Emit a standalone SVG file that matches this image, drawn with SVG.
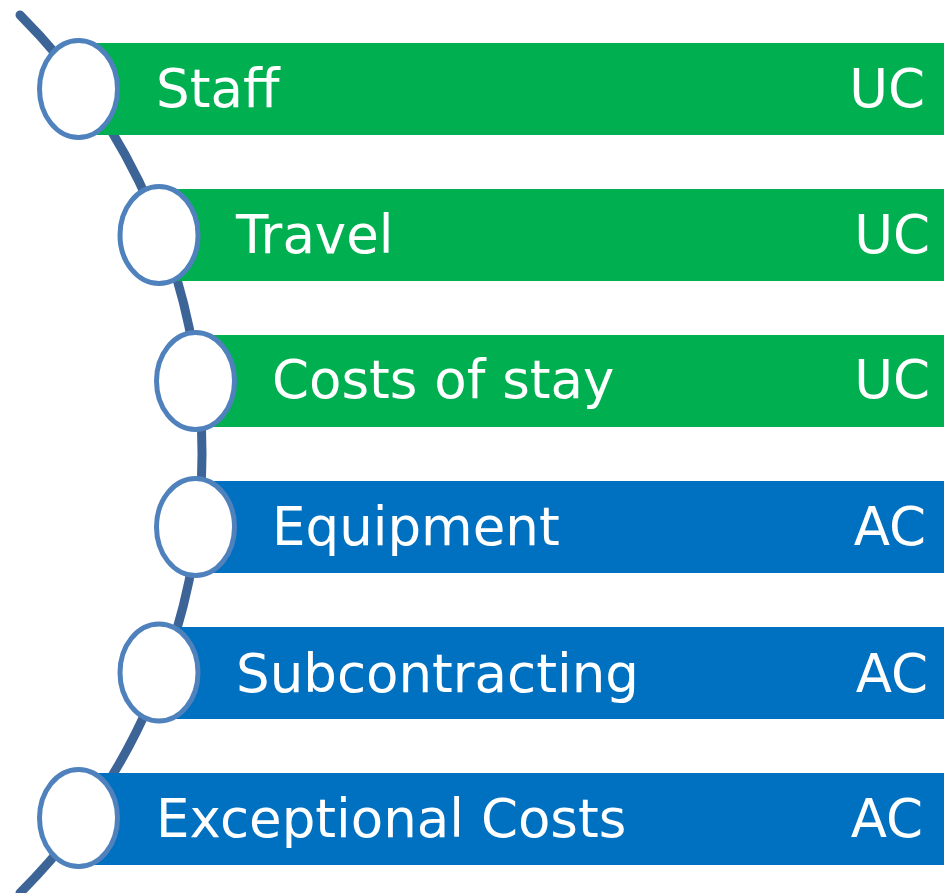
<svg xmlns="http://www.w3.org/2000/svg" width="944" height="893" viewBox="0 0 944 893">
  <style>
    .bar-uc { fill: #00b050; }
    .bar-ac { fill: #0070c0; }
    .ring { fill: #ffffff; stroke: #4f81bd; stroke-width: 5; }
    .label { font-family: "DejaVu Sans", Verdana, sans-serif; font-size: 53px; fill: #ffffff; }
    .tag { font-family: "DejaVu Sans", Verdana, sans-serif; font-size: 53px; fill: #ffffff; text-anchor: end; }
    .spine { fill: none; stroke: #3c6496; stroke-width: 9; stroke-linecap: round; }
  </style>

  <!-- curved spine linking the items -->
  <g id="connectors">
    <path class="spine" d="M 20 15 A 620.4 620.4 0 0 1 20 893"/>
  </g>

  <g id="staff">
    <rect class="bar-uc" x="95" y="43" width="849" height="92"/>
    <ellipse class="ring" cx="78.5" cy="89" rx="39" ry="48.5"/>
    <text class="label" x="156" y="107">Staff</text>
    <text class="tag" x="925" y="107">UC</text>
  </g>

  <g id="travel">
    <rect class="bar-uc" x="176" y="189" width="768" height="92"/>
    <ellipse class="ring" cx="159" cy="235" rx="39" ry="48.5"/>
    <text class="label" x="236" y="253">Travel</text>
    <text class="tag" x="930" y="253">UC</text>
  </g>

  <g id="costs-of-stay">
    <rect class="bar-uc" x="212" y="335" width="732" height="92"/>
    <ellipse class="ring" cx="195.5" cy="381" rx="39" ry="48.5"/>
    <text class="label" x="272" y="398">Costs of stay</text>
    <text class="tag" x="930" y="398">UC</text>
  </g>

  <g id="equipment">
    <rect class="bar-ac" x="212" y="481" width="732" height="92"/>
    <ellipse class="ring" cx="195.5" cy="527" rx="39" ry="48.5"/>
    <text class="label" x="272" y="545">Equipment</text>
    <text class="tag" x="926" y="545">AC</text>
  </g>

  <g id="subcontracting">
    <rect class="bar-ac" x="176" y="627" width="768" height="92"/>
    <ellipse class="ring" cx="159" cy="672.5" rx="39" ry="48.5"/>
    <text class="label" x="236" y="692">Subcontracting</text>
    <text class="tag" x="928" y="692">AC</text>
  </g>

  <g id="exceptional-costs">
    <rect class="bar-ac" x="95" y="773" width="849" height="92"/>
    <ellipse class="ring" cx="78.5" cy="818" rx="39" ry="48.5"/>
    <text class="label" x="156" y="837">Exceptional Costs</text>
    <text class="tag" x="923" y="837">AC</text>
  </g>
</svg>
